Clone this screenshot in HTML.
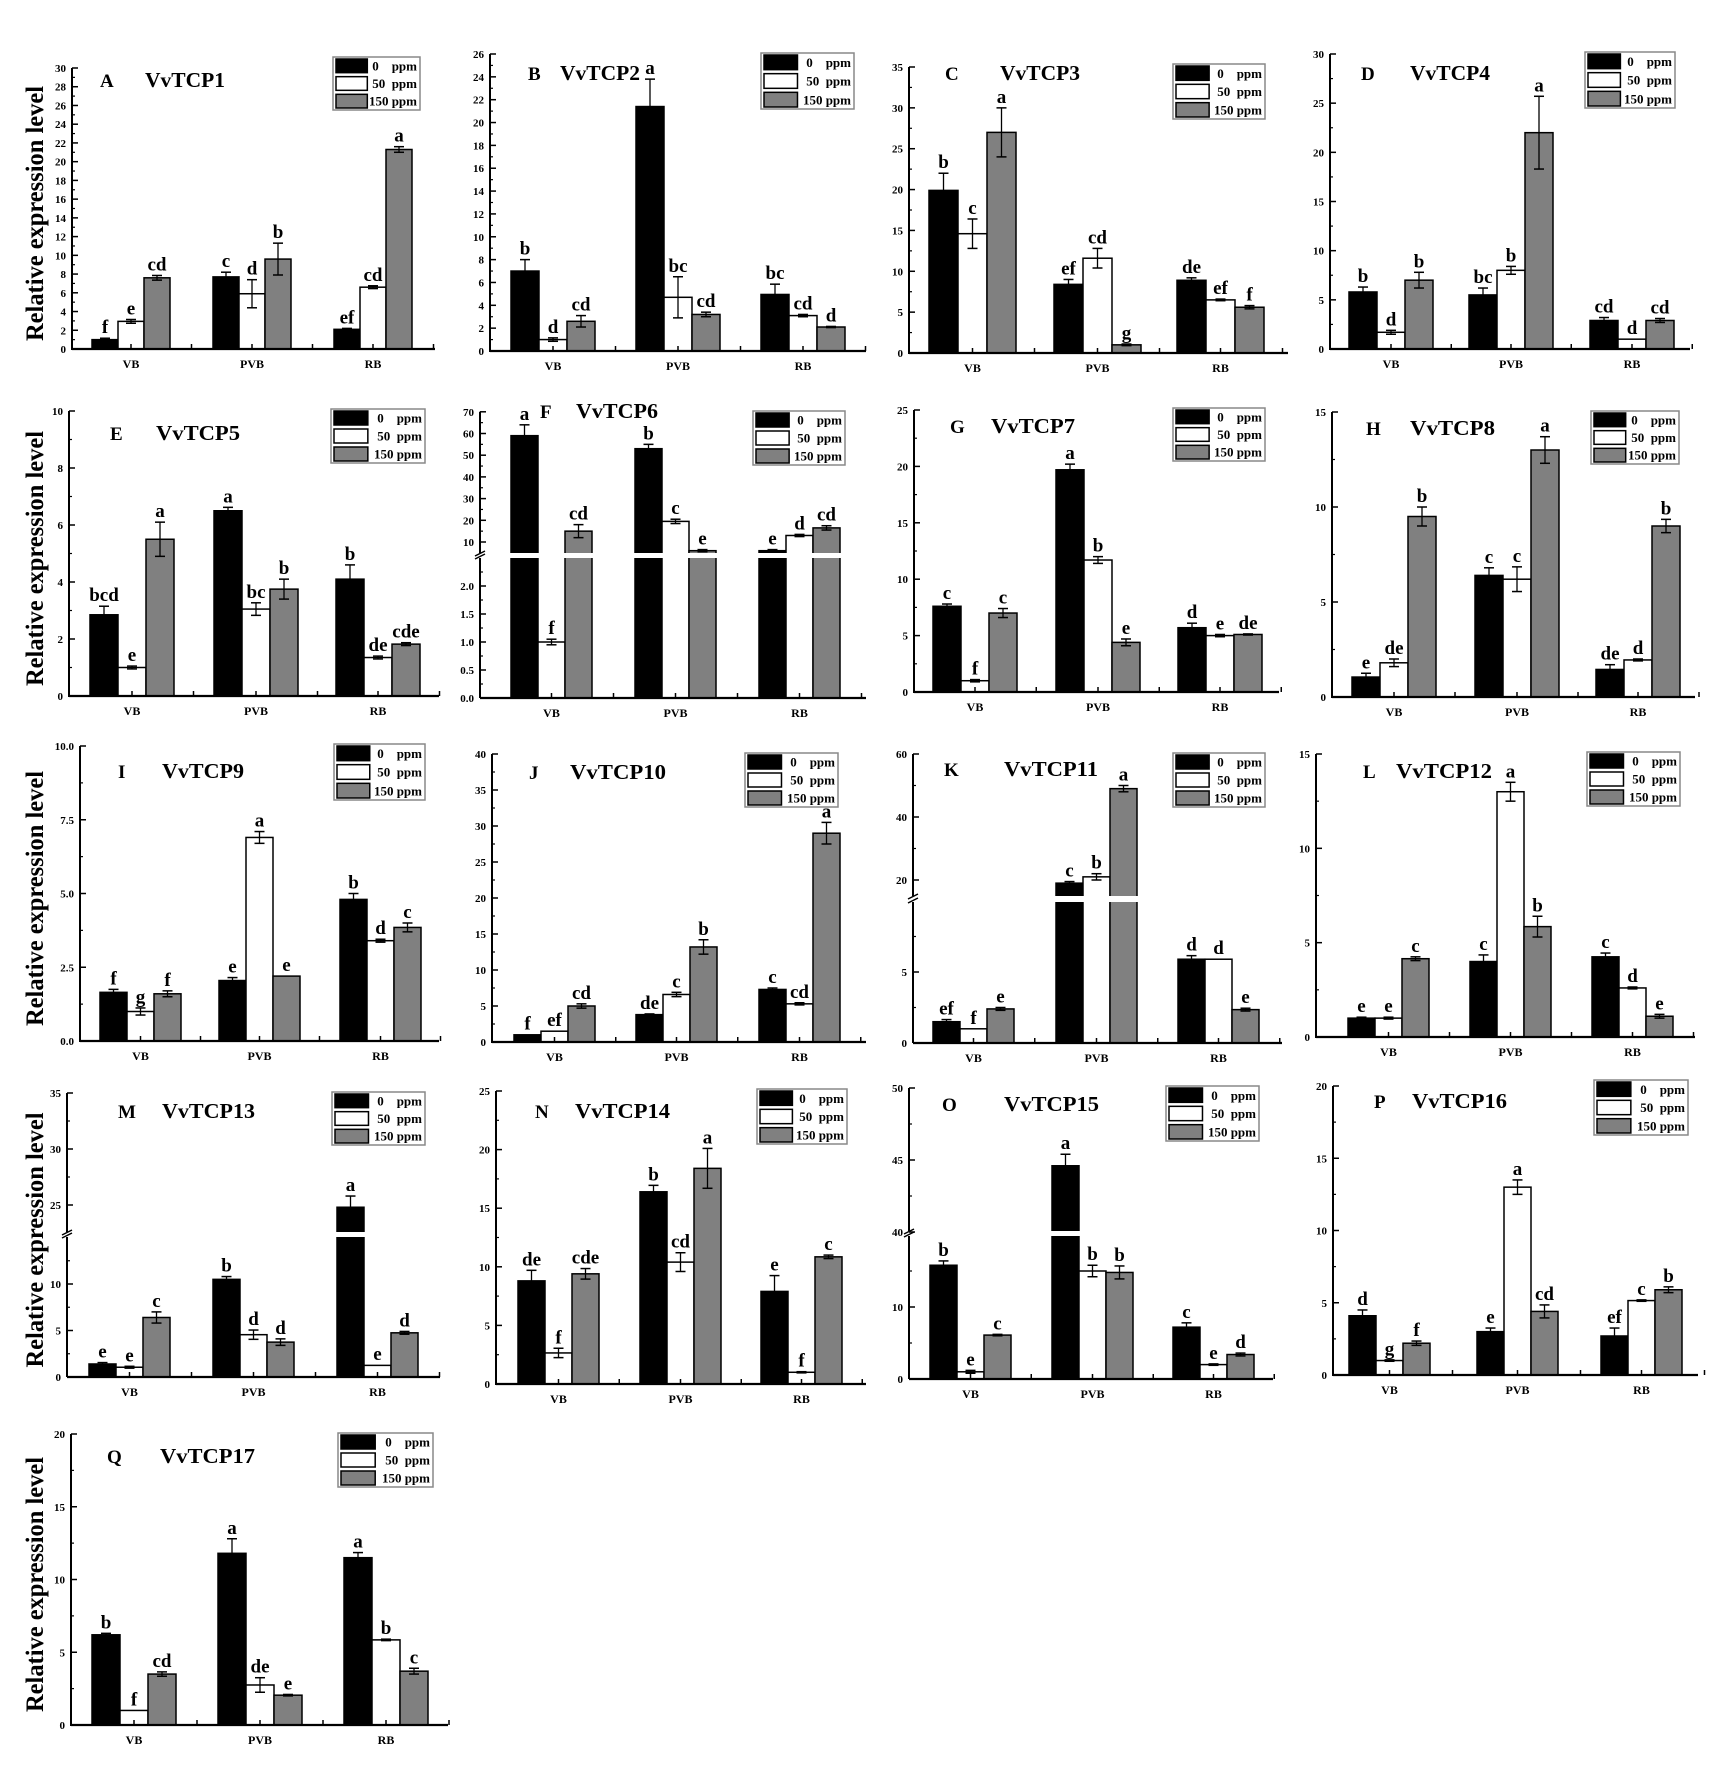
<!DOCTYPE html>
<html><head><meta charset="utf-8">
<style>html,body{margin:0;padding:0;background:#fff}svg{display:block}
text{font-family:"Liberation Serif",serif;font-weight:bold;fill:#000}</style></head>
<body>
<svg id="s" xmlns="http://www.w3.org/2000/svg" width="1713" height="1766" viewBox="0 0 1713 1766"></svg>
<script>
const S=document.getElementById('s');let h='';
function lin(y0,yt,m){return v=>y0-v*(y0-yt)/m;}
function brk(y0,lo,yu,uv,uu){return v=>v<=((y0-yu)/lo>0?999:0)?0:0;}
const P=[
{x0:72,x1:435,y0:349,yt:68,m:30,L:[92,213,334],w:26,tk:[0,2,4,6,8,10,12,14,16,18,20,22,24,26,28,30],mn:1,lg:[333,57,420,110],t:['A',100,87,'VvTCP1',145,225],yl:1,
v:[[1,.15,'f'],[2.95,.2,'e'],[7.6,.25,'cd'],[7.7,.5,'c'],[5.9,1.5,'d'],[9.6,1.7,'b'],[2.1,.1,'ef'],[6.6,.15,'cd'],[21.3,.3,'a']]},
{x0:490,x1:866,y0:351,yt:54,m:26,L:[511,636,761],w:28,tk:[0,2,4,6,8,10,12,14,16,18,20,22,24,26],mn:1,lg:[761,53,854,109],t:['B',528,80,'VvTCP2',560,640],
v:[[7,1,'b'],[1,.15,'d'],[2.6,.5,'cd'],[21.4,2.4,'a'],[4.7,1.8,'bc'],[3.2,.2,'cd'],[4.95,.9,'bc'],[3.1,.1,'cd'],[2.1,.05,'d']]},
{x0:909,x1:1288,y0:353,yt:67,m:35,L:[929,1054,1177],w:29,tk:[0,5,10,15,20,25,30,35],mn:2.5,lg:[1173,64,1265,119],t:['C',945,80,'VvTCP3',1000,1080],
v:[[19.9,2.1,'b'],[14.6,1.8,'c'],[27,3,'a'],[8.4,.6,'ef'],[11.6,1.2,'cd'],[1,.1,'g'],[8.9,.3,'de'],[6.5,.1,'ef'],[5.6,.2,'f']]},
{x0:1330,x1:1690,y0:349,yt:54,m:30,L:[1349,1469,1590],w:28,tk:[0,5,10,15,20,25,30],mn:2.5,lg:[1585,52,1675,108],t:['D',1361,80,'VvTCP4',1410,1490],
v:[[5.8,.5,'b'],[1.7,.2,'d'],[7,.8,'b'],[5.5,.7,'bc'],[8,.4,'b'],[22,3.7,'a'],[2.9,.3,'cd'],[1,0,'d'],[2.9,.2,'cd']]},
{x0:69,x1:439,y0:696,yt:411,m:10,L:[90,214,336],w:28,tk:[0,2,4,6,8,10],mn:1,lg:[331,409,425,463],t:['E',110,440,'VvTCP5',156,240],yl:1,
v:[[2.85,.3,'bcd'],[1,.05,'e'],[5.5,.6,'a'],[6.5,.12,'a'],[3.05,.22,'bc'],[3.75,.35,'b'],[4.1,.5,'b'],[1.35,.05,'de'],[1.82,.05,'cde']]},
{x0:480,x1:866,y0:698,L:[511,635,759],w:27,lg:[753,411,845,465],t:['F',540,418,'VvTCP6',576,658],
B:{lo:v=>698-v*56,up:v=>542-(v-10)*2.17,th:3,g:[553,558],tl:[[0,'0.0'],[.5,'0.5'],[1,'1.0'],[1.5,'1.5'],[2,'2.0']],tu:[10,20,30,40,50,60,70],ml:[.25,.75,1.25,1.75,2.25],mu:[15,25,35,45,55,65]},
v:[[59,5,'a'],[1,.05,'f'],[15,3,'cd'],[53,2,'b'],[19.5,1,'c'],[6,.5,'e'],[6,.5,'e'],[13,.5,'d'],[16.5,1,'cd']]},
{x0:914,x1:1279,y0:692,yt:410,m:25,L:[933,1056,1178],w:28,tk:[0,5,10,15,20,25],mn:2.5,lg:[1173,408,1265,461],t:['G',950,433,'VvTCP7',991,1075],
v:[[7.6,.2,'c'],[1,.1,'f'],[7,.4,'c'],[19.7,.5,'a'],[11.7,.3,'b'],[4.4,.3,'e'],[5.7,.4,'d'],[5,.1,'e'],[5.1,.05,'de']]},
{x0:1332,x1:1695,y0:697,yt:412,m:15,L:[1352,1475,1596],w:28,tk:[0,5,10,15],mn:2.5,lg:[1591,411,1679,464],t:['H',1366,435,'VvTCP8',1410,1495],
v:[[1.05,.2,'e'],[1.8,.2,'de'],[9.5,.5,'b'],[6.4,.4,'c'],[6.2,.65,'c'],[13,.7,'a'],[1.45,.25,'de'],[1.95,.05,'d'],[9,.35,'b']]},
{x0:80,x1:439,y0:1041,yt:746,m:10,L:[100,219,340],w:27,tk:[0,2.5,5,7.5,10],fx:1,mn:1.25,lg:[334,744,425,800],t:['I',118,778,'VvTCP9',162,244],yl:1,
v:[[1.65,.1,'f'],[1,.12,'g'],[1.6,.1,'f'],[2.05,.1,'e'],[6.9,.2,'a'],[2.2,0,'e'],[4.8,.2,'b'],[3.4,.05,'d'],[3.85,.15,'c']]},
{x0:492,x1:866,y0:1042,yt:754,m:40,L:[514,636,759],w:27,tk:[0,5,10,15,20,25,30,35,40],mn:2.5,lg:[745,753,838,807],t:['J',529,779,'VvTCP10',570,666],
v:[[1,.05,'f'],[1.5,0,'ef'],[5,.3,'cd'],[3.8,.1,'de'],[6.6,.3,'c'],[13.2,1,'b'],[7.3,.2,'c'],[5.3,.15,'cd'],[29,1.5,'a']]},
{x0:913,x1:1282,y0:1043,L:[933,1056,1178],w:27,lg:[1173,753,1265,807],t:['K',944,776,'VvTCP11',1004,1098],
B:{lo:v=>1043-v*14.2,up:v=>880-(v-20)*3.15,th:12,g:[896,902],tl:[[0,'0'],[5,'5']],tu:[20,40,60],ml:[2.5,7.5],mu:[30,50]},
v:[[1.5,.15,'ef'],[1,0,'f'],[2.4,.1,'e'],[19,.5,'c'],[21,1,'b'],[49,1,'a'],[5.9,.25,'d'],[5.9,0,'d'],[2.35,.1,'e']]},
{x0:1316,x1:1695,y0:1037,yt:754,m:15,L:[1348,1470,1592],w:27,tk:[0,5,10,15],mn:2.5,lg:[1587,752,1680,806],t:['L',1363,778,'VvTCP12',1396,1492],
v:[[1,.05,'e'],[1,.05,'e'],[4.15,.1,'c'],[4,.35,'c'],[13,.5,'a'],[5.85,.55,'b'],[4.25,.2,'c'],[2.6,.05,'d'],[1.1,.1,'e']]},
{x0:67,x1:440,y0:1377,L:[89,213,337],w:27,lg:[332,1092,425,1145],t:['M',118,1118,'VvTCP13',162,255],yl:1,
B:{lo:v=>1377-v*9.3,up:v=>1205-(v-25)*11.2,th:16,g:[1232,1237],tl:[[0,'0'],[5,'5'],[10,'10']],tu:[25,30,35],ml:[2.5,7.5,12.5],mu:[27.5,32.5]},
v:[[1.4,.15,'e'],[1.05,.1,'e'],[6.4,.6,'c'],[10.5,.3,'b'],[4.55,.5,'d'],[3.75,.35,'d'],[24.8,1,'a'],[1.25,.05,'e'],[4.75,.15,'d']]},
{x0:496,x1:866,y0:1384,yt:1091,m:25,L:[518,640,761],w:27,tk:[0,5,10,15,20,25],mn:2.5,lg:[757,1089,847,1144],t:['N',535,1118,'VvTCP14',575,670],
v:[[8.8,.9,'de'],[2.65,.4,'f'],[9.4,.45,'cde'],[16.4,.55,'b'],[10.4,.8,'cd'],[18.4,1.7,'a'],[7.9,1.35,'e'],[1,.05,'f'],[10.85,.15,'c']]},
{x0:909,x1:1273,y0:1379,L:[930,1052,1173],w:27,lg:[1166,1086,1259,1141],t:['O',942,1111,'VvTCP15',1004,1099],
B:{lo:v=>1379-v*7.2,up:v=>1232-(v-40)*14.4,th:25,g:[1231,1236],tl:[[0,'0'],[10,'10']],tu:[40,45,50],ml:[5,15],mu:[42.5,47.5]},
v:[[15.8,.6,'b'],[1,.2,'e'],[6.1,.1,'c'],[44.6,.8,'a'],[15,.8,'b'],[14.8,.9,'b'],[7.2,.6,'c'],[2,.1,'e'],[3.4,.2,'d']]},
{x0:1333,x1:1698,y0:1375,yt:1086,m:20,L:[1349,1477,1601],w:27,tk:[0,5,10,15,20],mn:2.5,lg:[1594,1080,1688,1135],t:['P',1374,1108,'VvTCP16',1412,1507],
v:[[4.1,.4,'d'],[1,.05,'g'],[2.2,.15,'f'],[3,.25,'e'],[13,.5,'a'],[4.4,.45,'cd'],[2.7,.55,'ef'],[5.15,.05,'c'],[5.9,.2,'b']]},
{x0:71,x1:448,y0:1725,yt:1434,m:20,L:[92,218,344],w:28,tk:[0,5,10,15,20],mn:2.5,lg:[338,1433,433,1487],t:['Q',107,1463,'VvTCP17',160,255],yl:1,
v:[[6.2,.1,'b'],[1,0,'f'],[3.5,.15,'cd'],[11.8,1,'a'],[2.75,.5,'de'],[2.05,.05,'e'],[11.5,.35,'a'],[5.85,.05,'b'],[3.7,.2,'c']]}
];
const F=['#000','#fff','#808080'];
function ln(a,b,c,d,w){h+=`<line x1="${a}" y1="${b}" x2="${c}" y2="${d}" stroke="#000" stroke-width="${w||1.5}"/>`;}
function tx(x,y,s,sz,an){h+=`<text x="${x}" y="${y}" font-size="${sz}" text-anchor="${an||'start'}" xml:space="preserve">${s}</text>`;}
P.forEach(p=>{
 let map,top;
 if(p.B){map=v=>v<=p.B.th?p.B.lo(v):p.B.up(v);top=p.B.up(p.B.tu[p.B.tu.length-1]);}
 else{map=lin(p.y0,p.yt,p.m);top=p.yt;}
 // bars
 p.v.forEach((d,i)=>{const g=Math.floor(i/3),k=i%3;const x=p.L[g]+k*p.w;const y=map(d[0]);
  h+=`<rect x="${x}" y="${y}" width="${p.w}" height="${p.y0-y}" fill="${F[k]}" stroke="#000" stroke-width="1.5"/>`;});
 if(p.B){h+=`<rect x="${p.x0+2}" y="${p.B.g[0]}" width="${p.x1-p.x0}" height="${p.B.g[1]-p.B.g[0]}" fill="#fff"/>`;}
 p.v.forEach((d,i)=>{const g=Math.floor(i/3),k=i%3;const cx=p.L[g]+k*p.w+p.w/2;const y=map(d[0]);
  const e=Math.abs(map(d[0]+d[1])-y);
  if(e>0.5){ln(cx,y-e,cx,y+e,1.3);ln(cx-5,y-e,cx+5,y-e,1.5);ln(cx-5,y+e,cx+5,y+e,1.5);}
  tx(cx,y-e-5,d[2],19,'middle');});
 // axes
 ln(p.x0,p.y0,p.x1,p.y0,2.2);
 if(p.B){ln(p.x0,p.y0,p.x0,p.B.g[1],2);ln(p.x0,p.B.g[0],p.x0,top,2);
  ln(p.x0-5,p.B.g[1]+1,p.x0+5,p.B.g[1]-4,1.5);ln(p.x0-5,p.B.g[0]+3,p.x0+5,p.B.g[0]-2,1.5);
  p.B.tl.forEach(t=>{const y=p.B.lo(t[0]);ln(p.x0,y,p.x0+6,y,1.5);tx(p.x0-6,y+4,t[1],11,'end');});
  p.B.tu.forEach(t=>{const y=p.B.up(t);ln(p.x0,y,p.x0+6,y,1.5);tx(p.x0-6,y+4,t,11,'end');});
  p.B.ml.forEach(t=>{const y=p.B.lo(t);if(y>p.B.g[1])ln(p.x0,y,p.x0+3,y,1.2);});
  p.B.mu.forEach(t=>{const y=p.B.up(t);ln(p.x0,y,p.x0+3,y,1.2);});
 } else {
  ln(p.x0,p.y0+1,p.x0,top,2);
  p.tk.forEach(t=>{const y=map(t);ln(p.x0,y,p.x0+6,y,1.5);tx(p.x0-6,y+4,p.fx?t.toFixed(1):t,11,'end');
   const m=t+p.mn;if(m<p.m)ln(p.x0,map(m),p.x0+3,map(m),1.2);});
 }
 // x ticks & cats
 const sp=(p.L[2]-p.L[0])/2;
 ['VB','PVB','RB'].forEach((c,g)=>{const cx=p.L[g]+1.5*p.w;ln(cx,p.y0,cx,p.y0-5,1.5);ln(cx+sp/2,p.y0,cx+sp/2,p.y0-5,1.5);tx(cx,p.y0+19,c,12,'middle');});
 // legend
 const [a,b,c2,d]=p.lg;const rh=(d-b)/3;
 h+=`<rect x="${a}" y="${b}" width="${c2-a}" height="${d-b}" fill="#fff" stroke="#888" stroke-width="1.5"/>`;
 const sw=(c2-a)*0.36;
 ['0    ppm','50  ppm','150 ppm'].forEach((s,k)=>{h+=`<rect x="${a+3}" y="${b+2+k*rh}" width="${sw}" height="${rh-4}" fill="${F[k]}" stroke="#000" stroke-width="1.5"/>`;
  tx(c2-3,b+k*rh+rh*0.75,s,13,'end');});
 // titles
 tx(p.t[1],p.t[2],p.t[0],19);
 h+=`<text x="${p.t[4]}" y="${p.t[2]}" font-size="21" textLength="${p.t[5]-p.t[4]}" lengthAdjust="spacingAndGlyphs">${p.t[3]}</text>`;
 if(p.yl){const cy=(p.y0+(p.B?top:p.yt))/2+5;
  h+=`<text x="0" y="0" font-size="25" text-anchor="middle" textLength="255" lengthAdjust="spacingAndGlyphs" transform="translate(43,${cy}) rotate(-90)">Relative expression level</text>`;}
});
S.innerHTML=h;
</script>
</body></html>
